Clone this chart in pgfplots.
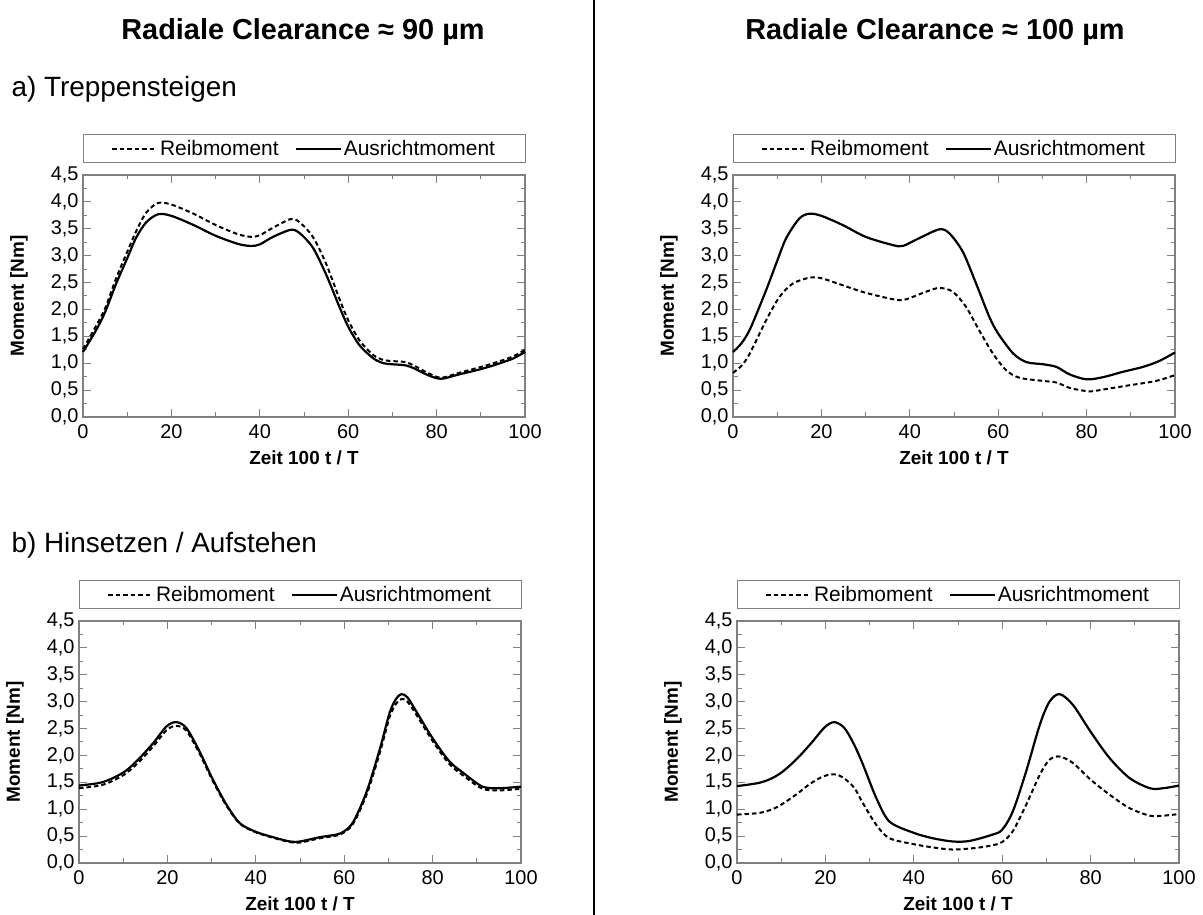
\documentclass[border=0pt]{standalone}
\usepackage{fontspec}
\setmainfont{Liberation Sans}
\usepackage{pgfplots}
\usepackage{pgfplotstable}
\pgfplotsset{compat=1.18}

% Treppensteigen, 90 um
\pgfplotstableread{
x y
0 1.21
3 1.62
5 1.95
7.5 2.48
10 2.95
12 3.33
14.3 3.62
17 3.77
20 3.74
25 3.57
30 3.37
35 3.22
38 3.18
40 3.21
43 3.35
47 3.48
49 3.42
52 3.15
55 2.65
58 2.05
60 1.68
62.6 1.33
65.7 1.09
68 1.00
70 0.98
73 0.96
75 0.90
78 0.78
81 0.71
85 0.79
90 0.89
94 0.99
97.4 1.09
100 1.21
}\aNsolid
\pgfplotstableread{
x y
0 1.26
3 1.70
5 2.02
7.5 2.58
10 3.07
12 3.45
14.3 3.80
17 3.98
20 3.95
25 3.78
30 3.57
35 3.40
38 3.35
40 3.38
43 3.52
47 3.68
49 3.62
52 3.35
55 2.85
58 2.20
60 1.80
62.6 1.42
65.7 1.15
68 1.06
70 1.04
73 1.02
75 0.95
78 0.82
81 0.73
85 0.82
90 0.93
94 1.03
97.4 1.13
100 1.25
}\aNdash
% Treppensteigen, 100 um
\pgfplotstableread{
x y
0 1.21
2 1.38
4 1.66
7.5 2.36
9.8 2.86
12 3.32
15 3.69
17.3 3.78
20 3.74
24.8 3.57
30 3.35
36 3.20
38.4 3.18
42 3.32
46.7 3.49
49 3.41
52 3.07
55 2.48
58 1.86
60 1.55
63.4 1.18
66.4 1.02
70.2 0.98
73.2 0.93
76.2 0.79
80 0.70
83.7 0.74
88.2 0.84
92.7 0.93
96.4 1.04
100 1.20
}\aHsolid
\pgfplotstableread{
x y
0 0.82
2 0.96
3.8 1.18
7.5 1.80
10.5 2.23
13.5 2.48
17.3 2.59
20 2.58
24.8 2.45
30 2.31
36.8 2.18
39.2 2.19
43.7 2.33
46.7 2.40
49.7 2.33
52.7 2.05
55.7 1.61
58.8 1.18
61.8 0.87
64.8 0.73
70.2 0.67
73.2 0.64
76.2 0.54
80 0.48
81.5 0.48
83.7 0.51
89.7 0.59
95.7 0.67
100 0.78
}\aHdash
% Hinsetzen / Aufstehen, 90 um
\pgfplotstableread{
x y
0 1.44
4.7 1.49
7.7 1.58
10.7 1.72
13.7 1.95
16.8 2.23
19.8 2.54
22 2.62
24.3 2.51
27.3 2.07
30.3 1.55
33.4 1.08
36.4 0.74
40 0.58
43.9 0.48
47.7 0.40
50 0.40
54.5 0.48
58.3 0.53
60 0.59
62.1 0.77
65.1 1.33
68.1 2.13
70.3 2.80
71.8 3.06
73 3.14
74.3 3.08
76.3 2.82
80 2.32
83.8 1.89
87.5 1.64
91.3 1.42
95 1.39
100 1.42
}\bNsolid
\pgfplotstableread{
x y
0 1.39
4.7 1.44
7.7 1.53
10.7 1.67
13.7 1.89
16.8 2.17
19.8 2.47
22 2.55
24.3 2.46
27.3 2.03
30.3 1.52
33.4 1.06
36.4 0.73
40 0.57
43.9 0.47
47.7 0.39
50 0.38
54.5 0.46
58.3 0.51
60 0.57
62.1 0.74
65.1 1.28
68.1 2.06
70.3 2.72
71.8 2.97
73 3.05
74.3 3.00
76.3 2.76
80 2.27
83.8 1.84
87.5 1.59
91.3 1.38
95 1.35
100 1.38
}\bNdash
% Hinsetzen / Aufstehen, 100 um
\pgfplotstableread{
x y
0 1.43
5 1.49
8 1.58
10.5 1.71
13.7 1.95
16.8 2.23
19.8 2.52
22 2.62
24.3 2.51
26.5 2.20
28.5 1.83
31.5 1.21
34.5 0.77
40 0.56
44.3 0.46
48.8 0.40
52.6 0.41
57.9 0.53
60 0.62
62.4 0.96
65.4 1.70
68.5 2.57
70.7 3.00
73 3.14
76 2.94
80 2.44
84.3 1.95
88.8 1.58
93.4 1.39
96.4 1.39
100 1.44
}\bHsolid
\pgfplotstableread{
x y
0 0.90
5 0.93
8 1.00
10.3 1.10
13.5 1.28
16.5 1.47
19.5 1.61
22 1.65
24 1.59
26.5 1.40
28.5 1.11
31.5 0.71
34.5 0.46
40 0.35
44.3 0.29
48.8 0.25
54 0.28
57.9 0.33
60 0.39
62.4 0.59
65.4 1.08
68.5 1.64
70.7 1.92
73 1.98
76 1.86
80 1.55
84.3 1.27
88.8 1.02
93.4 0.88
96.4 0.88
100 0.91
}\bHdash

\pgfplotsset{
  panel/.style={
    scale only axis, width=442bp, height=242bp,
    xmin=0, xmax=100, ymin=0, ymax=4.5,
    clip=false,
    xtick={0,20,40,60,80,100}, minor x tick num=1,
    ytick={0,0.5,1,1.5,2,2.5,3,3.5,4,4.5}, minor y tick num=1,
    tick align=inside,
    major tick length=8bp, minor tick length=4.5bp,
    axis line style={gray, line width=1.1bp},
    every tick/.style={gray, line width=1bp},
    /pgf/number format/assume math mode=true,
    tick label style={font=\fontsize{20}{22}\selectfont},
    xticklabel style={yshift=-4bp},
    yticklabel style={xshift=-1bp, /pgf/number format/.cd, fixed, fixed zerofill, precision=1, use comma},
    xlabel={\bfseries Zeit 100 t / T},
    ylabel={\bfseries Moment [Nm]},
    label style={font=\fontsize{19}{21}\selectfont},
    xlabel style={at={(axis description cs:0.5,-0.17)}, anchor=center},
    ylabel style={at={(axis description cs:-0.145,0.5)}, anchor=center},
    legend columns=2,
    legend cell align=left,
    legend style={at={(0.5,1.108)}, anchor=center, draw=none, fill=none,
      font=\fontsize{21}{24}\selectfont, inner sep=1bp,
      /tikz/every even column/.append style={column sep=14bp}},
    legend image code/.code={\draw[##1] (0bp,0bp) -- (45bp,0bp);},
  },
  reib/.style={black, line width=2bp, dash pattern=on 4.5bp off 3bp, smooth},
  aus/.style={black, line width=2.2bp, smooth},
}
\newcommand{\legframe}{\draw[gray, line width=1bp] (rel axis cs:0,1.05) rectangle (rel axis cs:1,1.166);}

\begin{document}
\begin{tikzpicture}[x=1bp, y=1bp]
\path[use as bounding box] (0,0) rectangle (1203,915);
\draw[black, line width=2bp] (594,0) -- (594,915);
\node[font=\fontsize{29}{33}\selectfont\bfseries] at (303,883) {Radiale Clearance ≈ 90 µm};
\node[font=\fontsize{29}{33}\selectfont\bfseries] at (935,883) {Radiale Clearance ≈ 100 µm};
\node[font=\fontsize{28}{32}\selectfont, anchor=west] at (8,826) {a) Treppensteigen};
\node[font=\fontsize{28}{32}\selectfont, anchor=west] at (8,370) {b) Hinsetzen / Aufstehen};

\begin{axis}[panel, at={(83bp,498bp)}, anchor=south west]
\legframe
\addplot[reib] table {\aNdash};
\addlegendentry{Reibmoment}
\addplot[aus] table {\aNsolid};
\addlegendentry{Ausrichtmoment}
\end{axis}

\begin{axis}[panel, at={(733bp,498bp)}, anchor=south west]
\legframe
\addplot[reib] table {\aHdash};
\addlegendentry{Reibmoment}
\addplot[aus] table {\aHsolid};
\addlegendentry{Ausrichtmoment}
\end{axis}

\begin{axis}[panel, at={(79bp,52bp)}, anchor=south west]
\legframe
\addplot[reib] table {\bNdash};
\addlegendentry{Reibmoment}
\addplot[aus] table {\bNsolid};
\addlegendentry{Ausrichtmoment}
\end{axis}

\begin{axis}[panel, at={(737bp,52bp)}, anchor=south west]
\legframe
\addplot[reib] table {\bHdash};
\addlegendentry{Reibmoment}
\addplot[aus] table {\bHsolid};
\addlegendentry{Ausrichtmoment}
\end{axis}
\end{tikzpicture}
\end{document}
